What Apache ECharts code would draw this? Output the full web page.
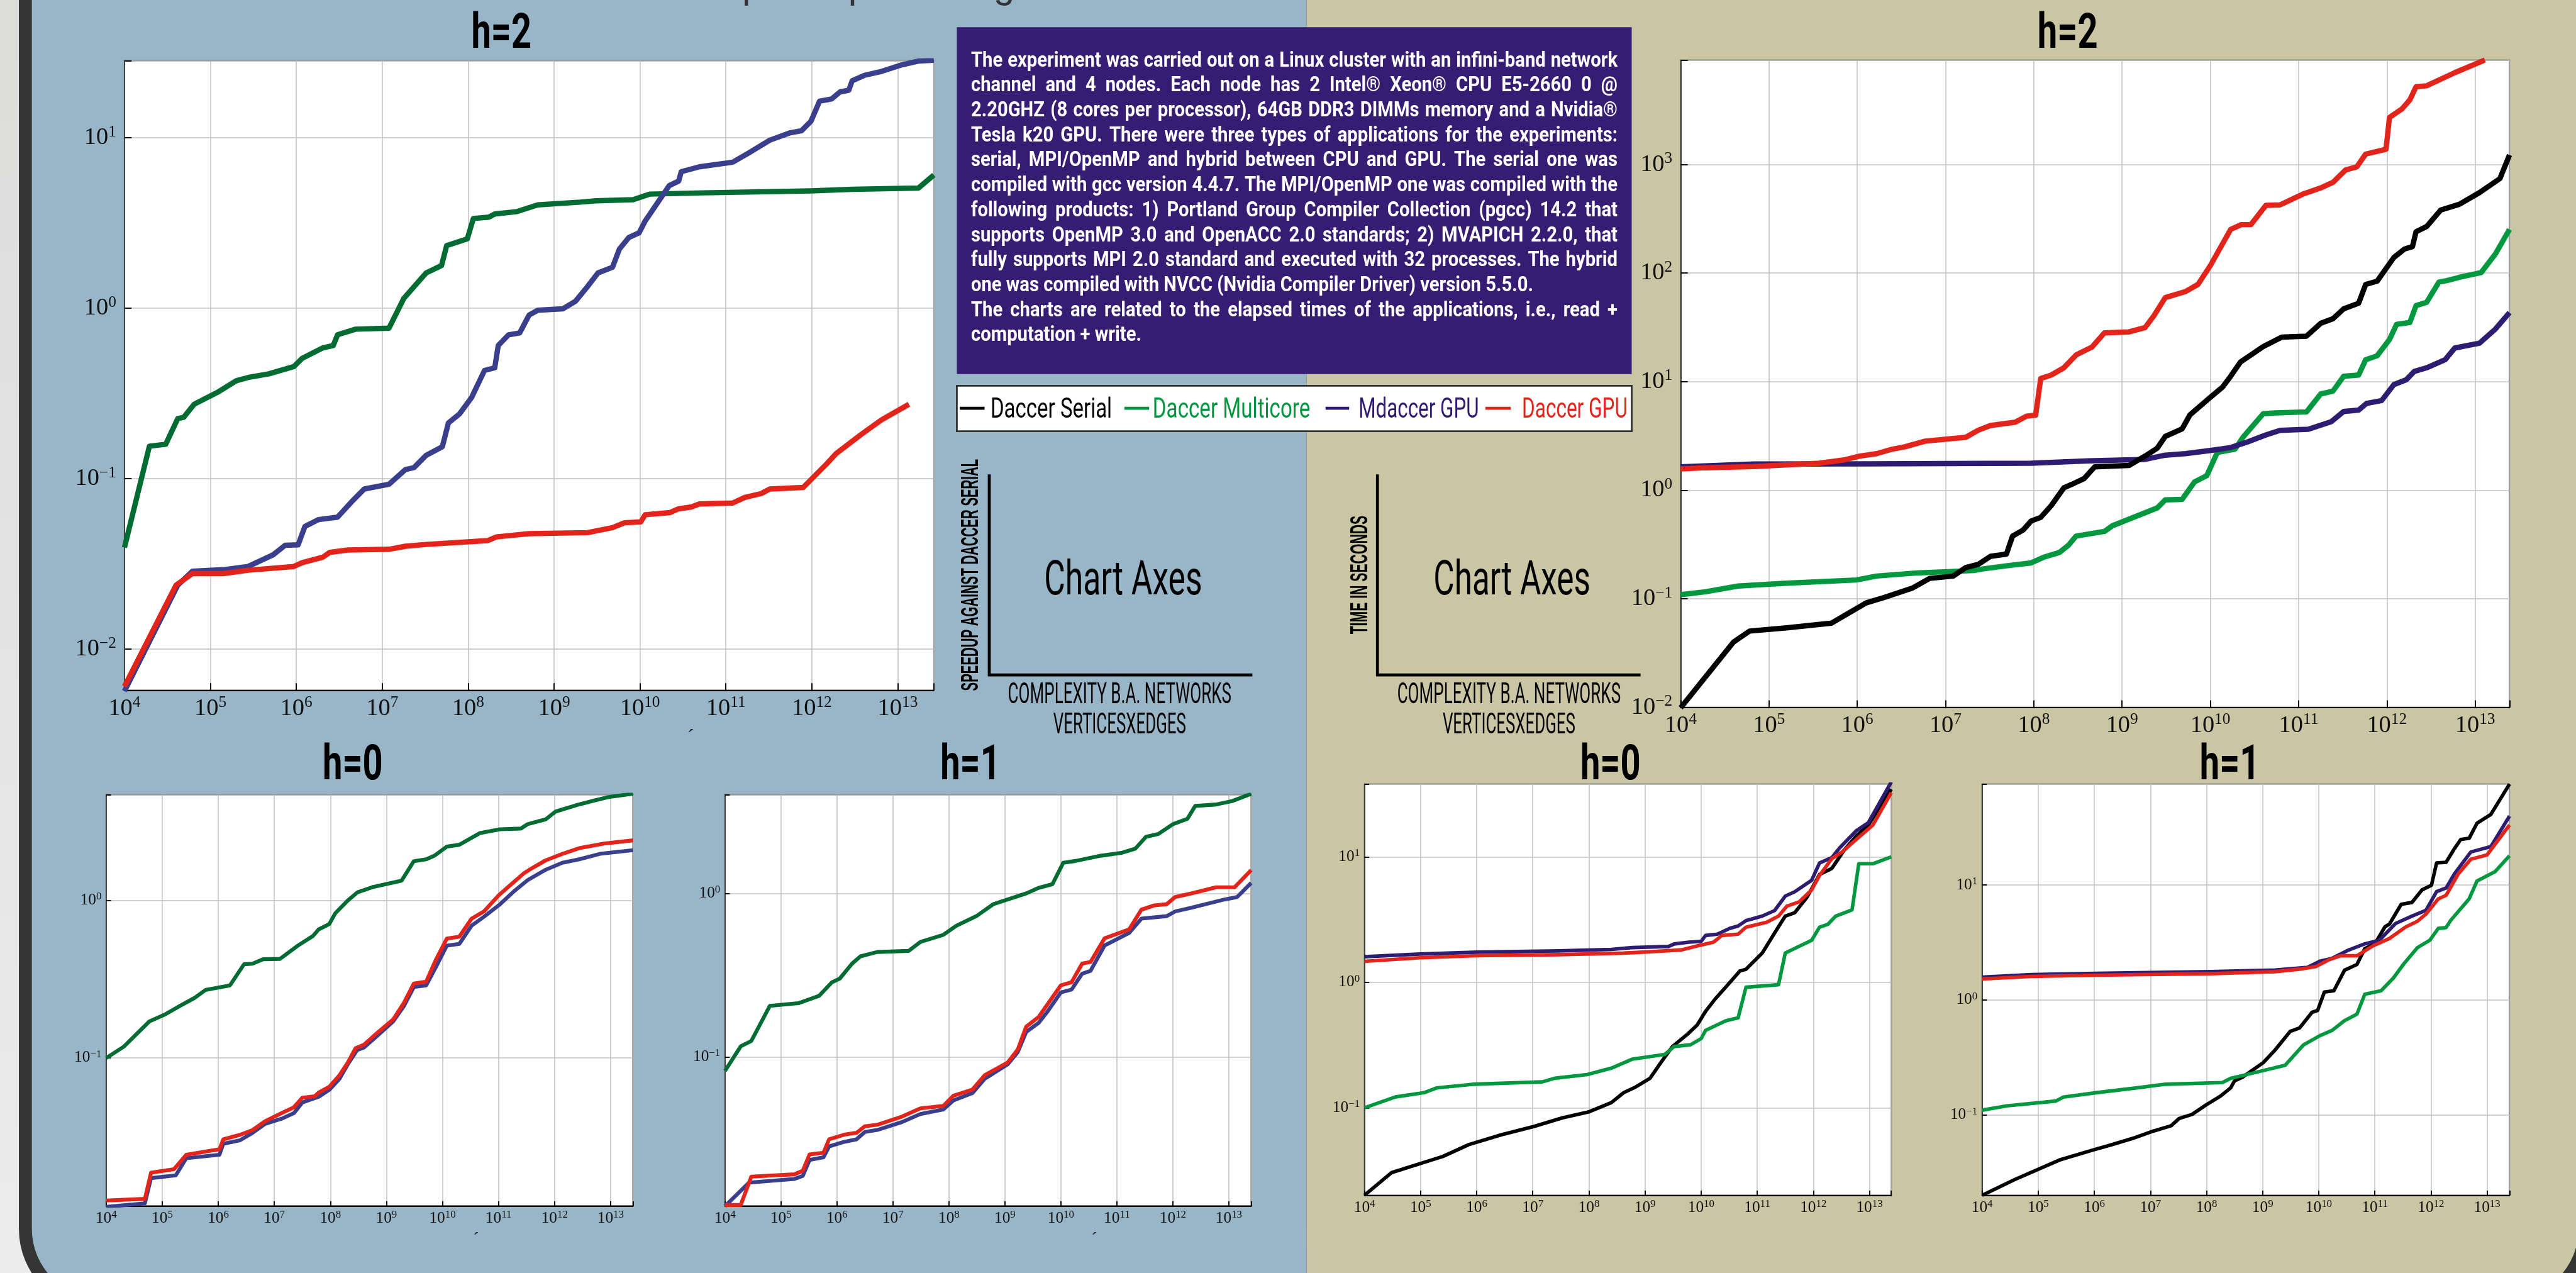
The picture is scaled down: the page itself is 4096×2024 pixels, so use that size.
<!DOCTYPE html>
<html>
<head>
<meta charset="utf-8">
<title>Daccer speedup and elapsed time on B.A. networks</title>
<script src="https://cdn.jsdelivr.net/npm/echarts@6.0.0/dist/echarts.min.js"></script>
<style>
html, body { margin: 0; padding: 0; background: #e3e3e3; overflow: hidden; }
#chart { width: 4096px; height: 2024px; }
</style>
</head>
<body>
<div id="chart"></div>
<script>
// Layout is written in poster units and drawn at this scale.
const S = 0.938;
const COND = 'Roboto', SANS = 'Liberation Sans', SERIF = 'Liberation Serif';

// ---- data: [complexity (vertices x edges), value] ----
// Speedup against Daccer Serial, h=2
const spdH2Multicore = [[1e4,0.0394],[1.95e4,0.155],[3.02e4,0.159],[4.17e4,0.225],[4.9e4,0.229],[6.46e4,0.273],[1.2e5,0.320],[2.0e5,0.375],[2.75e5,0.392],[4.79e5,0.412],[9.33e5,0.454],[1.17e6,0.508],[2.04e6,0.585],[2.69e6,0.604],[3.02e6,0.698],[4.9e6,0.753],[1.2e7,0.764],[1.78e7,1.14],[3.24e7,1.61],[4.9e7,1.78],[5.62e7,2.33],[9.77e7,2.55],[1.15e8,3.36],[1.74e8,3.42],[2.04e8,3.57],[3.72e8,3.69],[6.46e8,4.04],[2.0e9,4.19],[3.09e9,4.27],[8.32e9,4.33],[1.29e10,4.67],[5.5e10,4.75],[9.77e11,4.88],[2.95e12,4.98],[1.74e13,5.07],[2.63e13,6.05]];
const spdH2Mdaccer = [[1e4,0.00566],[4.17e4,0.0237],[6.17e4,0.0286],[1.41e5,0.0292],[2.75e5,0.0305],[5.37e5,0.0357],[7.41e5,0.0406],[1.05e6,0.0409],[1.26e6,0.0524],[1.82e6,0.0575],[3.02e6,0.0594],[4.37e6,0.0728],[6.17e6,0.0869],[1.2e7,0.0927],[1.86e7,0.113],[2.34e7,0.116],[3.24e7,0.137],[5.01e7,0.154],[5.89e7,0.212],[7.94e7,0.240],[1.1e8,0.300],[1.55e8,0.431],[2.04e8,0.447],[2.24e8,0.604],[2.95e8,0.698],[3.98e8,0.716],[5.13e8,0.912],[6.46e8,0.973],[1.26e9,0.991],[1.78e9,1.10],[2.45e9,1.34],[3.24e9,1.61],[4.79e9,1.74],[5.75e9,2.22],[7.41e9,2.60],[9.77e9,2.77],[1.15e10,3.25],[1.62e10,4.19],[2.19e10,5.24],[2.82e10,5.57],[3.02e10,6.32],[4.9e10,6.75],[1.2e11,7.19],[1.86e11,8.17],[3.24e11,9.68],[5.62e11,10.7],[7.59e11,11.0],[9.77e11,12.5],[1.23e12,16.4],[1.7e12,16.9],[2.14e12,18.6],[2.69e12,19.0],[2.95e12,21.6],[4.17e12,23.3],[6.46e12,24.5],[1.12e13,26.8],[1.74e13,28.2],[2.63e13,28.5]];
const spdH2Gpu = [[1e4,0.00603],[3.98e4,0.0237],[6.17e4,0.0277],[1.41e5,0.0277],[2.75e5,0.0290],[9.33e5,0.0305],[1.17e6,0.0321],[2.04e6,0.0346],[2.45e6,0.0369],[3.98e6,0.0381],[1.2e7,0.0385],[1.86e7,0.0401],[3.24e7,0.0411],[1.7e8,0.0433],[2.14e8,0.0455],[5.13e8,0.0475],[2.45e9,0.0482],[4.79e9,0.0516],[6.61e9,0.0551],[1.02e10,0.0557],[1.15e10,0.0614],[2.24e10,0.0632],[2.82e10,0.0665],[3.98e10,0.0682],[4.9e10,0.0710],[1.2e11,0.0719],[1.66e11,0.0776],[2.57e11,0.0817],[3.24e11,0.0869],[7.94e11,0.0887],[9.77e11,0.0986],[1.51e12,0.123],[1.91e12,0.140],[3.72e12,0.181],[6.46e12,0.221],[1.35e13,0.273]];

// Speedup, h=0
const spdH0Multicore = [[1e4,0.0995],[2.09e4,0.118],[5.89e4,0.170],[1.15e5,0.189],[1.91e5,0.210],[3.8e5,0.240],[5.89e5,0.269],[1.62e6,0.288],[2.88e6,0.392],[4.07e6,0.395],[6.31e6,0.422],[1.26e7,0.424],[2.63e7,0.515],[4.9e7,0.593],[6.17e7,0.653],[9.55e7,0.706],[1.23e8,0.828],[2.04e8,0.995],[3.02e8,1.12],[5.62e8,1.21],[1.86e9,1.33],[3.09e9,1.77],[5.13e9,1.82],[7.24e9,1.92],[1.2e10,2.19],[2.0e10,2.25],[4.68e10,2.67],[1.07e11,2.82],[2.51e11,2.85],[3.31e11,3.04],[6.92e11,3.26],[1.05e12,3.66],[2.75e12,4.06],[5.01e12,4.29],[8.91e12,4.51],[2.51e13,4.75]];
const spdH0Mdaccer = [[1e4,0.0113],[4.9e4,0.0119],[6.31e4,0.0172],[1.74e5,0.0179],[2.69e5,0.0230],[1.05e6,0.0242],[1.23e6,0.0284],[2.45e6,0.0299],[4.07e6,0.0333],[6.76e6,0.0379],[1.35e7,0.0410],[2.24e7,0.0445],[3.16e7,0.0520],[6.17e7,0.0564],[9.55e7,0.0625],[1.45e8,0.0733],[2.04e8,0.0906],[3.02e8,0.112],[3.98e8,0.116],[6.61e8,0.136],[1.32e9,0.170],[2.04e9,0.212],[3.09e9,0.281],[5.13e9,0.288],[7.59e9,0.375],[1.2e10,0.515],[2.0e10,0.528],[3.31e10,0.689],[5.5e10,0.785],[1.07e11,0.944],[1.95e11,1.15],[3.31e11,1.34],[6.92e11,1.56],[1.38e12,1.73],[2.75e12,1.82],[6.46e12,1.97],[2.51e13,2.08]];
const spdH0Gpu = [[1e4,0.0124],[4.9e4,0.0127],[6.31e4,0.0186],[1.62e5,0.0196],[2.69e5,0.0242],[1.05e6,0.0262],[1.23e6,0.0303],[2.45e6,0.0324],[4.07e6,0.0347],[6.76e6,0.0394],[1.35e7,0.0445],[2.24e7,0.0485],[3.16e7,0.0557],[5.25e7,0.0569],[6.17e7,0.0600],[9.55e7,0.0653],[1.45e8,0.0773],[2.04e8,0.0929],[2.82e8,0.115],[3.98e8,0.121],[6.61e8,0.142],[1.32e9,0.175],[2.04e9,0.222],[3.09e9,0.296],[5.13e9,0.304],[7.59e9,0.417],[1.2e10,0.571],[2.0e10,0.587],[3.31e10,0.764],[5.5e10,0.849],[1.02e11,1.08],[1.95e11,1.32],[2.82e11,1.48],[3.55e11,1.56],[6.92e11,1.79],[1.38e12,1.97],[2.75e12,2.14],[7.59e12,2.29],[2.51e13,2.40]];

// Speedup, h=1
const spdH1Multicore = [[1e4,0.082],[1.91e4,0.116],[2.95e4,0.125],[6.31e4,0.205],[2.04e5,0.213],[4.79e5,0.236],[8.13e5,0.286],[1.12e6,0.301],[1.86e6,0.372],[2.63e6,0.412],[5.25e6,0.438],[1.91e7,0.445],[3.09e7,0.505],[7.94e7,0.558],[1.35e8,0.634],[3.09e8,0.726],[6.17e8,0.859],[2.4e9,1.00],[3.98e9,1.08],[7.08e9,1.14],[1.1e10,1.54],[1.82e10,1.58],[5.13e10,1.70],[1.2e11,1.77],[2.14e11,1.88],[3.31e11,2.22],[5.5e11,2.31],[1.02e12,2.66],[1.82e12,2.86],[2.51e12,3.43],[5.89e12,3.50],[1.17e13,3.68],[2.51e13,4.07]];
const spdH1Mdaccer = [[1e4,0.0122],[2.69e4,0.0170],[1.74e5,0.0179],[2.45e5,0.0187],[3.24e5,0.0234],[5.75e5,0.0243],[7.24e5,0.0283],[1.35e6,0.0302],[2.24e6,0.0313],[3.16e6,0.0347],[5.25e6,0.0357],[1.45e7,0.0399],[3.09e7,0.0447],[7.94e7,0.0476],[1.2e8,0.0541],[2.63e8,0.0600],[4.37e8,0.0735],[1.12e9,0.0900],[1.7e9,0.107],[2.4e9,0.142],[3.98e9,0.161],[5.62e9,0.187],[1e10,0.248],[1.55e10,0.258],[2.4e10,0.323],[3.39e10,0.336],[6.03e10,0.480],[1.66e11,0.573],[2.75e11,0.701],[7.76e11,0.726],[1.1e12,0.776],[2.14e12,0.817],[8.32e12,0.918],[1.41e13,0.951],[2.51e13,1.16]];
const spdH1Gpu = [[1e4,0.0124],[1.91e4,0.0124],[2.95e4,0.0185],[1.74e5,0.0191],[2.45e5,0.0201],[3.24e5,0.0253],[5.75e5,0.0259],[7.24e5,0.0313],[1.35e6,0.0334],[2.24e6,0.0343],[3.16e6,0.0376],[5.25e6,0.0384],[1.45e7,0.0431],[3.09e7,0.0484],[7.94e7,0.0501],[1.2e8,0.0578],[2.63e8,0.0631],[4.37e8,0.0773],[1.12e9,0.0923],[1.7e9,0.111],[2.4e9,0.153],[3.98e9,0.175],[5.62e9,0.207],[1e10,0.274],[1.55e10,0.286],[2.4e10,0.372],[3.39e10,0.381],[6.03e10,0.531],[1.66e11,0.603],[2.75e11,0.796],[4.68e11,0.845],[7.76e11,0.859],[1.1e12,0.951],[2.14e12,1.00],[5.89e12,1.09],[1.26e13,1.09],[2.51e13,1.39]];

// Time in seconds, h=2
const secH2Serial = [[1e4,0.0099],[3.98e4,0.0400],[6.03e4,0.0504],[1.58e5,0.0540],[5.13e5,0.0597],[7.76e5,0.0728],[1.26e6,0.0916],[2.04e6,0.103],[4.27e6,0.126],[6.61e6,0.154],[1.23e7,0.162],[1.7e7,0.194],[2.34e7,0.207],[3.24e7,0.246],[4.9e7,0.258],[5.75e7,0.378],[7.59e7,0.430],[9.33e7,0.520],[1.2e8,0.562],[1.58e8,0.723],[2.19e8,1.05],[2.69e8,1.13],[3.72e8,1.28],[4.9e8,1.64],[1.2e9,1.69],[1.82e9,2.06],[2.51e9,2.44],[3.09e9,3.13],[4.79e9,3.67],[5.89e9,4.95],[1e10,7.16],[1.38e10,8.93],[1.7e10,11.2],[2.19e10,15.1],[3.98e10,21.0],[6.46e10,25.7],[1.23e11,26.2],[1.78e11,34.4],[2.45e11,37.9],[3.24e11,46.8],[4.79e11,52.7],[5.75e11,78.5],[7.76e11,84.1],[1.2e12,139],[1.58e12,166],[1.95e12,175],[2.14e12,240],[2.82e12,268],[4.07e12,380],[6.61e12,429],[1.12e13,550],[1.91e13,741],[2.45e13,1222]];
const secH2Multicore = [[1e4,0.109],[1.91e4,0.116],[4.47e4,0.131],[1.58e5,0.139],[9.77e5,0.149],[1.66e6,0.162],[4.79e6,0.173],[2.09e7,0.182],[2.63e7,0.188],[4.9e7,0.201],[9.33e7,0.214],[1.29e8,0.241],[1.95e8,0.267],[2.45e8,0.309],[3.02e8,0.378],[6.31e8,0.417],[7.76e8,0.470],[2.51e9,0.687],[3.09e9,0.815],[4.79e9,0.822],[6.61e9,1.19],[9.12e9,1.36],[1.2e10,2.23],[1.91e10,2.39],[2.34e10,3.07],[3.98e10,5.06],[5.5e10,5.15],[1.23e11,5.26],[1.78e11,7.69],[2.45e11,8.17],[3.24e11,11.2],[4.79e11,11.5],[5.75e11,15.9],[7.76e11,17.3],[1.07e12,24.4],[1.29e12,33.7],[1.82e12,35.0],[2.14e12,50.1],[2.82e12,53.7],[3.89e12,82.6],[4.79e12,85.1],[6.61e12,91.2],[1.17e13,101],[1.7e13,150],[2.45e13,252]];
const secH2Mdaccer = [[1e4,1.64],[6.76e4,1.74],[1.32e6,1.75],[9.33e7,1.77],[4.17e8,1.86],[1.82e9,1.92],[3.09e9,2.10],[5.25e9,2.17],[1e10,2.32],[1.7e10,2.47],[2.63e10,2.78],[4.27e10,3.23],[6.17e10,3.56],[1.29e11,3.64],[2.34e11,4.27],[3.24e11,5.31],[4.79e11,5.47],[5.89e11,6.30],[8.71e11,6.68],[1.2e12,9.38],[1.66e12,10.4],[2.04e12,12.4],[2.82e12,13.4],[4.57e12,15.9],[5.89e12,20.4],[1.12e13,22.6],[1.7e13,30.5],[2.45e13,43.2]];
const secH2Gpu = [[1e4,1.57],[1.91e4,1.61],[6.76e4,1.65],[3.72e5,1.77],[7.08e5,1.90],[1.07e6,2.06],[1.66e6,2.17],[2.51e6,2.39],[3.47e6,2.51],[5.89e6,2.83],[1.7e7,3.07],[2.34e7,3.56],[3.24e7,3.94],[6.17e7,4.23],[8.32e7,4.81],[1.05e8,4.91],[1.2e8,10.7],[1.58e8,11.5],[2.19e8,13.4],[3.02e8,17.6],[4.57e8,20.8],[6.31e8,28.1],[1.2e9,28.7],[1.82e9,31.4],[2.29e9,40.3],[3.09e9,59.4],[5.25e9,67.6],[7.24e9,78.5],[1e10,117],[1.7e10,252],[2.24e10,279],[2.88e10,279],[4.27e10,420],[6.17e10,424],[1.15e11,538],[1.78e11,607],[2.45e11,684],[3.39e11,887],[4.57e11,951],[5.75e11,1245],[9.77e11,1377],[1.07e12,2710],[1.48e12,3243],[1.82e12,3926],[2.14e12,5190],[2.82e12,5300],[5.89e12,7000],[1.29e13,9160]];

// Time in seconds, h=0
const secH0Serial = [[1e4,0.0201],[3.02e4,0.0304],[9.77e4,0.0359],[2.51e5,0.0410],[7.24e5,0.0509],[2.75e6,0.0610],[1.05e7,0.0710],[3.39e7,0.0832],[9.77e7,0.0925],[2.51e8,0.110],[4.17e8,0.132],[6.92e8,0.147],[1.23e9,0.172],[1.91e9,0.229],[3.09e9,0.308],[5.75e9,0.387],[8.51e9,0.457],[1.2e10,0.587],[1.78e10,0.736],[2.95e10,0.948],[4.9e10,1.23],[6.31e10,1.27],[1.23e11,1.71],[2.04e11,2.47],[3.16e11,3.37],[4.68e11,3.59],[7.76e11,4.78],[1.29e12,7.23],[2.14e12,8.09],[3.55e12,11.3],[5.89e12,14.7],[9.55e12,17.9],[2.45e13,34.6]];
const secH0Multicore = [[1e4,0.100],[3.55e4,0.122],[1.15e5,0.132],[1.91e5,0.144],[8.51e5,0.154],[1.48e7,0.161],[2.45e7,0.172],[9.33e7,0.184],[2.51e8,0.207],[5.89e8,0.244],[2.24e9,0.266],[3.31e9,0.308],[6.46e9,0.318],[1e10,0.356],[1.2e10,0.414],[2.75e10,0.494],[4.57e10,0.521],[6.31e10,0.914],[2.4e11,0.957],[3.16e11,1.71],[9.33e11,2.16],[1.29e12,2.75],[1.82e12,2.90],[2.51e12,3.37],[4.9e12,3.78],[6.46e12,8.81],[1.15e13,8.81],[2.45e13,10.0]];
const secH0Mdaccer = [[1e4,1.60],[9.77e4,1.68],[1.02e6,1.74],[2.88e7,1.78],[2.51e8,1.83],[5.89e8,1.89],[2.63e9,1.93],[3.31e9,2.02],[6.03e9,2.09],[1e10,2.12],[1.2e10,2.36],[1.95e10,2.42],[3.24e10,2.69],[4.57e10,2.81],[6.31e10,3.10],[1.23e11,3.37],[2.04e11,3.73],[3.16e11,4.86],[4.68e11,5.27],[9.33e11,6.50],[1.29e12,8.93],[2.14e12,9.86],[2.95e12,11.8],[5.89e12,16.2],[9.55e12,18.7],[2.45e13,39.5]];
const secH0Gpu = [[1e4,1.47],[9.77e4,1.57],[1.02e6,1.63],[2.88e7,1.66],[4.17e8,1.71],[1.15e9,1.75],[4.37e9,1.81],[8.51e9,1.95],[1.66e10,2.09],[2.34e10,2.36],[4.57e10,2.42],[6.31e10,2.75],[1.48e11,3.01],[2.4e11,3.37],[3.39e11,4.05],[5.62e11,4.38],[9.33e11,5.45],[1.29e12,7.10],[2.14e12,9.68],[3.31e12,11.0],[6.92e12,14.7],[1.15e13,17.9],[2.45e13,32.4]];

// Time in seconds, h=1
const secH1Serial = [[1e4,0.0200],[3.8e4,0.0274],[2.4e5,0.0406],[9.12e5,0.0493],[2.09e6,0.0553],[4.9e6,0.0627],[1.12e7,0.0723],[2.34e7,0.0805],[3.24e7,0.0931],[5.5e7,0.101],[9.77e7,0.122],[1.78e8,0.146],[2.69e8,0.172],[3.16e8,0.198],[4.37e8,0.213],[1.02e9,0.284],[1.66e9,0.366],[3.09e9,0.532],[4.57e9,0.571],[7.59e9,0.780],[9.55e9,0.809],[1.26e10,1.17],[1.86e10,1.20],[2.88e10,1.81],[4.79e10,2.03],[6.61e10,2.79],[1e11,3.07],[1.51e11,4.31],[1.82e11,4.56],[2.95e11,6.78],[4.57e11,7.03],[6.92e11,9.04],[1.02e12,9.93],[1.26e12,15.5],[1.86e12,15.7],[2.63e12,20.7],[3.39e12,24.8],[4.79e12,25.4],[6.61e12,34.3],[1.17e13,41.0],[2.51e13,75.2]];
const secH1Multicore = [[1e4,0.110],[2.75e4,0.120],[2.04e5,0.132],[2.82e5,0.143],[1.07e6,0.156],[5.75e6,0.172],[1.86e7,0.185],[1.91e8,0.191],[2.69e8,0.208],[6.17e8,0.229],[2.51e9,0.270],[5.37e9,0.407],[1.05e10,0.489],[1.74e10,0.544],[2.88e10,0.661],[4.79e10,0.752],[6.61e10,1.12],[1.29e11,1.20],[2.14e11,1.55],[3.31e11,2.07],[5.75e11,2.85],[9.55e11,3.30],[1.35e12,4.18],[1.86e12,4.25],[2.24e12,4.90],[4.79e12,7.55],[6.61e12,10.8],[1.38e13,13.0],[2.51e13,17.9]];
const secH1Mdaccer = [[1e4,1.58],[7.41e4,1.66],[1.07e6,1.70],[1.15e8,1.76],[1.66e9,1.82],[6.31e9,1.92],[1.05e10,2.17],[1.74e10,2.30],[3.39e10,2.71],[6.61e10,3.07],[1.2e11,3.30],[2.34e11,4.62],[4.57e11,5.35],[8.13e11,6.00],[1.26e12,8.73],[1.86e12,9.38],[2.63e12,12.5],[5.13e12,19.3],[1.17e13,21.5],[2.51e13,39.6]];
const secH1Gpu = [[1e4,1.52],[7.41e4,1.60],[1.07e6,1.64],[1.15e8,1.69],[1.66e9,1.76],[4.57e9,1.85],[8.91e9,1.95],[1.48e10,2.22],[2.45e10,2.42],[4.79e10,2.42],[9.33e10,2.96],[1.82e11,3.42],[3.55e11,4.31],[5.75e11,4.83],[8.13e11,5.57],[1.35e12,7.55],[1.86e12,8.11],[3.09e12,12.5],[5.13e12,16.7],[1e13,18.2],[2.51e13,33.1]];

// legend entries and panel titles
const legendNames = ['Daccer Serial', 'Daccer Multicore', 'Mdaccer GPU', 'Daccer GPU'];
const panelTitles = ['h=2', 'h=2', 'h=0', 'h=1', 'h=0', 'h=1'];
const noteLines = [
  'The experiment was carried out on a Linux cluster with an infini-band network',
  'channel and 4 nodes. Each node has 2 Intel\u00ae Xeon\u00ae CPU E5-2660 0 @',
  '2.20GHZ (8 cores per processor), 64GB DDR3 DIMMs memory and a Nvidia\u00ae',
  'Tesla k20 GPU. There were three types of applications for the experiments:',
  'serial, MPI/OpenMP and hybrid between CPU and GPU. The serial one was',
  'compiled with gcc version 4.4.7. The MPI/OpenMP one was compiled with the',
  'following products: 1) Portland Group Compiler Collection (pgcc) 14.2 that',
  'supports OpenMP 3.0 and OpenACC 2.0 standards; 2) MVAPICH 2.2.0, that',
  'fully supports MPI 2.0 standard and executed with 32 processes. The hybrid',
  'one was compiled with NVCC (Nvidia Compiler Driver) version 5.5.0.',
  'The charts are related to the elapsed times of the applications, i.e., read +',
  'computation + write.'
];

// ---- colours ----
const C = {
  serial: '#000000', gpu: '#e2241b',
  multiL: '#006c31', mdaL: '#3a3f8d',
  multiR: '#00983f', mdaR: '#2e1c72',
  legMulti: '#00963f', legMda: '#2e1a72'
};

// ---- plot boxes (poster units) and axis extents ----
const panels = [
  { l: 211,  t: 103,  w: 1372, h: 1067, x: [1e4, 2.63e13], y: [0.00573, 28.3], big: true },
  { l: 2849, t: 102,  w: 1405, h: 1097, x: [1e4, 2.45e13], y: [0.01, 9120],    big: true },
  { l: 180,  t: 1347, w: 893,  h: 697,  x: [1e4, 2.51e13], y: [0.01146, 4.68], big: false },
  { l: 1229, t: 1347, w: 892,  h: 697,  x: [1e4, 2.51e13], y: [0.01225, 4.02], big: false },
  { l: 2313, t: 1329, w: 893,  h: 697,  x: [1e4, 2.45e13], y: [0.0201, 38.0],  big: false },
  { l: 3360, t: 1329, w: 894,  h: 697,  x: [1e4, 2.51e13], y: [0.02004, 75.2], big: false }
];

const seriesDefs = [
  { g: 0, name: 'Daccer Multicore', data: spdH2Multicore, color: C.multiL, w: 9, z: 3 },
  { g: 0, name: 'Mdaccer GPU', data: spdH2Mdaccer, color: C.mdaL, w: 9, z: 4 },
  { g: 0, name: 'Daccer GPU', data: spdH2Gpu, color: C.gpu, w: 9, z: 5 },

  { g: 1, name: 'Daccer Serial', data: secH2Serial, color: C.serial, w: 9, z: 6 },
  { g: 1, name: 'Daccer Multicore', data: secH2Multicore, color: C.multiR, w: 9, z: 3 },
  { g: 1, name: 'Mdaccer GPU', data: secH2Mdaccer, color: C.mdaR, w: 9, z: 4 },
  { g: 1, name: 'Daccer GPU', data: secH2Gpu, color: C.gpu, w: 9, z: 5 },

  { g: 2, name: 'Daccer Multicore', data: spdH0Multicore, color: C.multiL, w: 6.5, z: 3 },
  { g: 2, name: 'Mdaccer GPU', data: spdH0Mdaccer, color: C.mdaL, w: 6.5, z: 4 },
  { g: 2, name: 'Daccer GPU', data: spdH0Gpu, color: C.gpu, w: 6.5, z: 5 },

  { g: 3, name: 'Daccer Multicore', data: spdH1Multicore, color: C.multiL, w: 6.5, z: 3 },
  { g: 3, name: 'Mdaccer GPU', data: spdH1Mdaccer, color: C.mdaL, w: 6.5, z: 4 },
  { g: 3, name: 'Daccer GPU', data: spdH1Gpu, color: C.gpu, w: 6.5, z: 5 },

  { g: 4, name: 'Daccer Serial', data: secH0Serial, color: C.serial, w: 6, z: 2 },
  { g: 4, name: 'Daccer Multicore', data: secH0Multicore, color: C.multiR, w: 6, z: 3 },
  { g: 4, name: 'Mdaccer GPU', data: secH0Mdaccer, color: C.mdaR, w: 6, z: 4 },
  { g: 4, name: 'Daccer GPU', data: secH0Gpu, color: C.gpu, w: 6, z: 5 },

  { g: 5, name: 'Daccer Serial', data: secH1Serial, color: C.serial, w: 6, z: 2 },
  { g: 5, name: 'Daccer Multicore', data: secH1Multicore, color: C.multiR, w: 6, z: 3 },
  { g: 5, name: 'Mdaccer GPU', data: secH1Mdaccer, color: C.mdaR, w: 6, z: 4 },
  { g: 5, name: 'Daccer GPU', data: secH1Gpu, color: C.gpu, w: 6, z: 5 }
];

// ---- axis labels: powers of ten with a raised exponent ----
function expLabel(v) {
  const e = Math.log10(v), r = Math.round(e);
  if (Math.abs(e - r) > 1e-6) return '';
  return '{b|10}{s|' + (r < 0 ? '\u2212' + (-r) : String(r)) + '}';
}
function richFor(big) {
  const b = big ? 41 : 27, s = big ? 27 : 18, lh = big ? 46 : 30, slh = big ? 23 : 13;
  return {
    b: { fontFamily: SERIF, fontSize: b * S, lineHeight: lh * S, color: '#111', verticalAlign: 'middle' },
    s: { fontFamily: SERIF, fontSize: s * S, lineHeight: slh * S, color: '#111', verticalAlign: 'top' }
  };
}
function axis(p, i, isX) {
  return {
    type: 'log', logBase: 10, gridIndex: i, splitNumber: 10,
    min: isX ? p.x[0] : p.y[0], max: isX ? p.x[1] : p.y[1],
    axisLine: { show: true, onZero: false, lineStyle: { color: isX ? '#000' : '#3c3c3c', width: 2 * S } },
    axisTick: { show: true, inside: true, length: (p.big ? 12 : 8) * S, lineStyle: { color: '#000', width: 2 * S } },
    axisLabel: { show: true, formatter: expLabel, margin: (isX ? (p.big ? 8 : 6) : (p.big ? 14 : 8)) * S, rich: richFor(p.big) },
    splitLine: { show: true, lineStyle: { color: '#c0c0c0', width: 1.6 * S } },
    minorTick: { show: false }, minorSplitLine: { show: false }
  };
}

// ---- text helpers (widths measured so condensed lettering fills its space) ----
const meas = document.createElement('canvas').getContext('2d');
function natWidth(str, size, family, weight) {
  meas.font = (weight || 'normal') + ' ' + size + 'px "' + family + '"';
  return meas.measureText(str).width;
}
function txt(str, o) {
  const nat = natWidth(str, o.size, o.family, o.weight);
  return {
    type: 'text', z: 20, x: o.x, y: o.y, rotation: o.rot || 0,
    scaleX: o.w ? o.w / nat : (o.sx || 1),
    style: {
      text: str, x: 0, y: 0, fontSize: o.size, fontFamily: o.family, fontWeight: o.weight || 'normal',
      fill: o.color || '#000', align: o.align || 'center', verticalAlign: o.va || 'middle'
    }
  };
}
function seg(x1, y1, x2, y2, color, w) {
  return { type: 'line', z: 20, shape: { x1: x1, y1: y1, x2: x2, y2: y2 }, style: { stroke: color, lineWidth: w } };
}

const els = [];

// poster background: grey margin, dark rounded frame, blue and khaki halves
els.push({ type: 'rect', z: -20, shape: { x: 0, y: 0, width: 4420, height: 2220 },
  style: { fill: { type: 'linear', x: 0, y: 0, x2: 0, y2: 1, colorStops: [{ offset: 0, color: '#dcdcdb' }, { offset: 1, color: '#ececec' }] } } });
els.push({ type: 'rect', z: -19, shape: { x: 32, y: -300, width: 4361, height: 2523, r: [0, 0, 140, 140] }, style: { fill: '#353535' } });
els.push({ type: 'rect', z: -18, shape: { x: 54, y: -300, width: 2161, height: 2501, r: [0, 0, 0, 118] }, style: { fill: '#98b6c7' } });
els.push({ type: 'rect', z: -18, shape: { x: 2215, y: -300, width: 2156, height: 2501, r: [0, 0, 118, 0] }, style: { fill: '#cac6a3' } });

// panel heading, mostly above the top edge
const headSize = 65 * 180 / natWidth('peedu', 65, SANS);
els.push(txt('Speedup', { x: 1265 - natWidth('S', headSize, SANS) - 0.11 * headSize, y: 10, size: headSize, family: SANS, color: '#333', align: 'left', va: 'bottom' }));
els.push(txt('against Daccer Serial', { x: 1688 - natWidth('a', headSize, SANS) - 0.06 * headSize, y: 10, size: headSize, family: SANS, color: '#333', align: 'left', va: 'bottom' }));

// chart titles
const titleSpots = [[850, 60], [3505, 60], [598, 1300], [1645, 1300], [2730, 1300], [3780, 1300]];
const titleScale = 102 / natWidth('h=2', 82, COND, 'bold');
panelTitles.forEach((t, i) => {
  els.push(txt(t, { x: titleSpots[i][0], y: titleSpots[i][1], size: 82, family: COND, weight: 'bold', sx: titleScale }));
});

// notes box
els.push({ type: 'rect', z: 10, shape: { x: 1622, y: 46, width: 1144, height: 588 }, style: { fill: '#361c73' } });
const noteSize = 35, noteLeft = 1646, noteRight = 2742;
const lastLine = { 9: 953, 11: 289 };
const baseScale = lastLine[9] / natWidth(noteLines[9], noteSize, COND, 'bold');
noteLines.forEach((line, i) => {
  const y = 104 + 42.3 * i;
  if (lastLine[i]) {
    els.push(txt(line, { x: noteLeft, y: y, size: noteSize, family: COND, weight: 'bold', color: '#fff', align: 'left', w: lastLine[i] }));
    return;
  }
  const target = noteRight - noteLeft;
  const words = line.split(' ');
  const ww = words.map(w => natWidth(w, noteSize, COND, 'bold') * baseScale);
  const sum = ww.reduce((a, b) => a + b, 0);
  const gap = (target - sum) / (words.length - 1);
  if (gap < natWidth(' ', noteSize, COND, 'bold') * baseScale * 0.8) {
    els.push(txt(line, { x: noteLeft, y: y, size: noteSize, family: COND, weight: 'bold', color: '#fff', align: 'left', w: target }));
  } else {
    let x = noteLeft;
    words.forEach((w, k) => {
      els.push(txt(w, { x: x, y: y, size: noteSize, family: COND, weight: 'bold', color: '#fff', align: 'left', sx: baseScale }));
      x += ww[k] + gap;
    });
  }
});

// legend box
els.push({ type: 'rect', z: 10, shape: { x: 1622, y: 654, width: 1144, height: 77 }, style: { fill: '#fff', stroke: '#333', lineWidth: 3 } });
const legendColors = [C.serial, C.legMulti, C.legMda, C.gpu];
const legendMarks = [[1627, 1669], [1906, 1948], [2247, 2287], [2518, 2561]];
const legendText = [[1679, 206], [1954, 267], [2303, 204], [2580, 179]];
legendNames.forEach((n, i) => {
  els.push(seg(legendMarks[i][0], 692, legendMarks[i][1], 692, legendColors[i], 5));
  els.push(txt(n, { x: legendText[i][0], y: 696, size: 47, family: COND, color: legendColors[i], align: 'left', w: legendText[i][1] }));
});

// axis keys
[[1677, 2123, 1904, 268, 1898, 'SPEEDUP AGAINST DACCER SERIAL', 1646, 393],
 [2335, 2781, 2563, 266, 2558, 'TIME IN SECONDS', 2306, 201]].forEach(k => {
  els.push(seg(k[0], 804, k[0], 1146, '#000', 5));
  els.push(seg(k[0] - 2, 1144, k[1], 1144, '#000', 5));
  els.push(txt('Chart Axes', { x: k[2], y: 987, size: 81, family: COND, w: k[3] }));
  els.push(txt('COMPLEXITY B.A. NETWORKS', { x: k[4], y: 1180, size: 49, family: COND, w: 379 }));
  els.push(txt('VERTICESXEDGES', { x: k[4], y: 1231, size: 49, family: COND, w: 225 }));
  els.push(txt(k[5], { x: k[6], y: 974.5, size: 42, family: SANS, weight: 'bold', rot: Math.PI / 2, w: k[7] }));
});

// stray marks under the speedup charts
[[1171, 1252, 36], [807, 2101, 30], [1855, 2101, 30]].forEach(m => {
  els.push(txt('\u00b4', { x: m[0], y: m[1], size: m[2], family: SERIF, color: '#222' }));
});

const option = {
  animation: false,
  grid: panels.map(p => ({
    left: p.l * S, top: p.t * S, width: p.w * S, height: p.h * S,
    show: true, backgroundColor: '#ffffff', borderColor: '#4a4a4a', borderWidth: 2 * S
  })),
  xAxis: panels.map((p, i) => axis(p, i, true)),
  yAxis: panels.map((p, i) => axis(p, i, false)),
  series: seriesDefs.map(d => ({
    type: 'line', name: d.name, xAxisIndex: d.g, yAxisIndex: d.g, data: d.data,
    symbol: 'none', showSymbol: false, silent: true, z: d.z, clip: true,
    lineStyle: { color: d.color, width: d.w * S, join: 'round' },
    emphasis: { disabled: true }
  })),
  graphic: { elements: [{ type: 'group', scaleX: S, scaleY: S, children: els }] }
};

const chart = echarts.init(document.getElementById('chart'), null, { renderer: 'canvas' });
chart.setOption(option);
</script>
</body>
</html>
